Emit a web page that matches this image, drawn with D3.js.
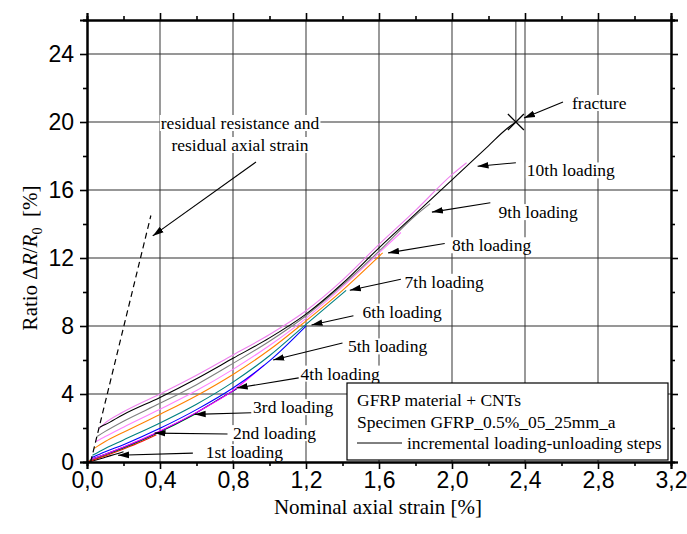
<!DOCTYPE html>
<html><head><meta charset="utf-8">
<script src="https://cdn.jsdelivr.net/npm/d3@7"></script>
<style>body{margin:0;background:#fff}</style>
</head><body><svg id="c" width="687" height="534"></svg>
<script>
// ---- data ----
const xTickValues = [0, 0.4, 0.8, 1.2, 1.6, 2.0, 2.4, 2.8, 3.2];
const xMinorTicks = [0.2, 0.6, 1.0, 1.4, 1.8, 2.2, 2.6, 3.0];
const yTickValues = [0, 4, 8, 12, 16, 20, 24];
const yMinorTicks = [2, 6, 10, 14, 18, 22, 26];

const loadingColors = ["#000000", "#ff0000", "#00b000", "#000080", "#ff00ff", "#0000ff", "#008080", "#ff8000", "#ff80ff", "#808080", "#ee82ee", "#000000"];

const loading01 = [[0,0],[0.05,0.12],[0.1,0.28],[0.15,0.44],[0.2,0.6]];
const loading02 = [[0.01,0.05],[0.1,0.36],[0.2,0.76],[0.3,1.2],[0.38,1.6]];
const loading03 = [[0.015,0.1],[0.1,0.42],[0.2,0.82],[0.3,1.28],[0.4,1.78],[0.5,2.3],[0.6,2.85]];
const loading04 = [[0.02,0.15],[0.1,0.45],[0.2,0.86],[0.4,1.8],[0.6,2.9],[0.7,3.55],[0.82,4.3]];
const loading05 = [[0.02,0.15],[0.1,0.46],[0.2,0.88],[0.4,1.82],[0.6,2.92],[0.8,4.2],[0.97,5.7]];
const loading06 = [[0.025,0.25],[0.1,0.6],[0.2,1.02],[0.4,1.98],[0.6,3.08],[0.8,4.35],[1.0,5.95],[1.2,8.0]];
const loading07 = [[0.03,0.4],[0.1,0.8],[0.2,1.3],[0.4,2.3],[0.6,3.4],[0.8,4.7],[1.0,6.25],[1.2,8.1],[1.42,10.1]];
const loading08 = [[0.04,0.8],[0.1,1.2],[0.2,1.75],[0.4,2.8],[0.6,3.9],[0.8,5.15],[1.0,6.6],[1.2,8.3],[1.4,10.1],[1.62,12.3]];
const loading09 = [[0.05,1.2],[0.1,1.5],[0.2,2.05],[0.4,3.1],[0.6,4.2],[0.8,5.45],[1.0,6.85],[1.2,8.45],[1.4,10.3],[1.6,12.3],[1.72,13.5]];
const loading10 = [[0.055,1.5],[0.1,1.8],[0.2,2.4],[0.4,3.45],[0.6,4.55],[0.8,5.8],[1.0,7.1],[1.2,8.6],[1.4,10.4],[1.6,12.4],[1.8,14.5],[1.88,15.2]];
const loading11 = [[0.065,1.95],[0.1,2.3],[0.2,2.95],[0.4,4.0],[0.6,5.1],[0.8,6.3],[1.0,7.5],[1.2,8.9],[1.4,10.7],[1.6,12.8],[1.8,14.8],[2.0,16.9],[2.08,17.6]];
const loading12 = [[0.07,2.05],[0.1,2.2],[0.2,2.8],[0.4,3.8],[0.6,4.9],[0.8,6.1],[1.0,7.3],[1.2,8.7],[1.4,10.5],[1.6,12.6],[1.8,14.6],[2.0,16.6],[2.2,18.6],[2.3,19.6],[2.35,20.0]];
const loadingCurves = [loading01, loading02, loading03, loading04, loading05, loading06, loading07, loading08, loading09, loading10, loading11, loading12];

const residualLine = [[0.02,0],[0.35,14.5]];
const fracturePoint = [2.35, 20.0];

const loadingLabels = ["1st loading","2nd loading","3rd loading","4th loading","5th loading","6th loading","7th loading","8th loading","9th loading","10th loading"];
// arrow tip (data coords) for each label
const loadingArrowTips = [[0.17,0.4],[0.37,1.7],[0.59,2.8],[0.82,4.35],[1.02,6.0],[1.23,8.06],[1.44,10.1],[1.65,12.3],[1.89,14.7],[2.14,17.4]];
// label anchor (data coords, start of text)
const loadingLabelPos = [[0.65,0.58],[0.8,1.7],[0.91,3.23],[1.17,5.2],[1.43,6.8],[1.51,8.85],[1.74,10.6],[2.0,12.75],[2.255,14.7],[2.41,17.15]];
const loadingArrowTails = [[0.58,0.52],[0.77,1.65],[0.9,2.9],[1.16,4.95],[1.4,7.0],[1.46,8.6],[1.72,10.75],[1.96,12.85],[2.21,15.25],[2.35,17.6]];
const legendLines = ["GFRP material + CNTs", "Specimen GFRP_0.5%_05_25mm_a", "incremental loading-unloading steps"];

// ---- chart ----
const svg = d3.select("#c");
const x = d3.scaleLinear().domain([0, 3.2]).range([87, 671]);
const y = d3.scaleLinear().domain([0, 26]).range([462, 20]);
const fmt = v => d3.format(".1f")(v).replace(".", ",");

// grid
svg.append("g").selectAll("line").data(xTickValues.slice(1, -1)).join("line")
  .attr("x1", d => x(d)).attr("x2", d => x(d)).attr("y1", y(26)).attr("y2", y(0))
  .attr("stroke", "#808080").attr("stroke-width", 1.6);
svg.append("g").selectAll("line").data(yTickValues.slice(1)).join("line")
  .attr("x1", x(0)).attr("x2", x(3.2)).attr("y1", d => y(d)).attr("y2", d => y(d))
  .attr("stroke", "#303030").attr("stroke-width", 1.2);

// fracture vertical line
svg.append("line").attr("x1", x(fracturePoint[0])).attr("x2", x(fracturePoint[0]))
  .attr("y1", y(26)).attr("y2", y(fracturePoint[1])).attr("stroke", "#000").attr("stroke-width", 0.8);

// axes
const axB = d3.axisBottom(x).tickValues(xTickValues).tickFormat(fmt).tickSize(7).tickPadding(3);
const axBm = d3.axisBottom(x).tickValues(xMinorTicks).tickFormat("").tickSize(4);
const axT = d3.axisTop(x).tickValues(xTickValues).tickFormat("").tickSize(7);
const axTm = d3.axisTop(x).tickValues(xMinorTicks).tickFormat("").tickSize(4);
const axL = d3.axisLeft(y).tickValues(yTickValues).tickFormat(d3.format("d")).tickSize(7).tickPadding(6);
const axLm = d3.axisLeft(y).tickValues(yMinorTicks).tickFormat("").tickSize(4);
const axR = d3.axisRight(y).tickValues(yTickValues.concat([26])).tickFormat("").tickSize(7);
const axRm = d3.axisRight(y).tickValues(yMinorTicks).tickFormat("").tickSize(4);

function styleAxis(g) {
  g.select(".domain").attr("stroke", "#000").attr("stroke-width", 2);
  g.selectAll(".tick line").attr("stroke", "#000").attr("stroke-width", 1.6);
  g.selectAll(".tick text").attr("font-family", "Liberation Sans, Arial, sans-serif").attr("font-size", 23).attr("fill", "#000");
}

// curves
const line = d3.line().x(d => x(d[0])).y(d => y(d[1])).curve(d3.curveMonotoneX);
const cg = svg.append("g");
loadingCurves.forEach((c, i) => {
  cg.append("path").datum(c).attr("d", line).attr("fill", "none")
    .attr("stroke", loadingColors[i]).attr("stroke-width", 1.1);
});

// residual dashed line
svg.append("path").datum(residualLine).attr("d", d3.line().x(d => x(d[0])).y(d => y(d[1])))
  .attr("stroke", "#000").attr("stroke-width", 1.2).attr("stroke-dasharray", "6,4").attr("fill", "none");

// fracture marker
const fx = x(fracturePoint[0]), fy = y(fracturePoint[1]);
svg.append("path").attr("d", `M${fx-8},${fy-8}L${fx+8},${fy+8}M${fx-8},${fy+8}L${fx+8},${fy-8}`)
  .attr("stroke", "#000").attr("stroke-width", 1.2);

// arrow marker
svg.append("defs").append("marker").attr("id", "ah").attr("viewBox", "0 0 10 10")
  .attr("refX", 10).attr("refY", 5).attr("markerWidth", 11).attr("markerHeight", 11)
  .attr("markerUnits", "userSpaceOnUse").attr("orient", "auto")
  .append("path").attr("d", "M0,2L10,5L0,8Z").attr("fill", "#000");

const serif = "Liberation Serif, Times New Roman, serif";
function label(txt, px, py, anchor) {
  const t = svg.append("text").attr("x", px).attr("y", py).attr("text-anchor", anchor || "start")
    .attr("dominant-baseline", "central").attr("font-family", serif).attr("font-size", 17.5).attr("fill", "#000").text(txt);
  const b = t.node().getBBox();
  svg.insert("rect", () => t.node()).attr("x", b.x - 1).attr("y", b.y + 2).attr("width", b.width + 2).attr("height", b.height - 4).attr("fill", "#fff");
  return t;
}
function arrow(x1, y1, x2, y2) {
  svg.append("line").attr("x1", x1).attr("y1", y1).attr("x2", x2).attr("y2", y2)
    .attr("stroke", "#000").attr("stroke-width", 1.1).attr("marker-end", "url(#ah)");
}

loadingLabels.forEach((t, i) => {
  label(t, x(loadingLabelPos[i][0]), y(loadingLabelPos[i][1]));
  arrow(x(loadingArrowTails[i][0]), y(loadingArrowTails[i][1]), x(loadingArrowTips[i][0]), y(loadingArrowTips[i][1]));
});

label("residual resistance and", 240, 123, "middle");
label("residual axial strain", 240, 145, "middle");
arrow(256, 162, x(0.36), y(13.3));
label("fracture", 572, 103);
arrow(563, 102, 524, 118);

// legend box
svg.append("rect").attr("x", 347).attr("y", 383).attr("width", 321).attr("height", 77)
  .attr("fill", "#fff").attr("stroke", "#000").attr("stroke-width", 1.2);
legendLines.slice(0, 2).forEach((t, i) => {
  svg.append("text").attr("x", 357).attr("y", 400 + i * 22).attr("dominant-baseline", "central")
    .attr("font-family", serif).attr("font-size", 17.5).text(t);
});
svg.append("line").attr("x1", 357).attr("x2", 402).attr("y1", 443).attr("y2", 443).attr("stroke", "#000").attr("stroke-width", 1);
svg.append("text").attr("x", 407).attr("y", 443).attr("dominant-baseline", "central")
  .attr("font-family", serif).attr("font-size", 17.5).text(legendLines[2]);

// axes on top
[[axB, `translate(0,${y(0)})`], [axBm, `translate(0,${y(0)})`], [axT, `translate(0,${y(26)})`], [axTm, `translate(0,${y(26)})`],
 [axL, `translate(${x(0)},0)`], [axLm, `translate(${x(0)},0)`], [axR, `translate(${x(3.2)},0)`], [axRm, `translate(${x(3.2)},0)`]]
  .forEach(([a, tr]) => svg.append("g").attr("transform", tr).call(a).call(styleAxis));

// axis titles
svg.append("text").attr("x", 378).attr("y", 514).attr("text-anchor", "middle")
  .attr("font-family", serif).attr("font-size", 21).text("Nominal axial strain [%]");
const yt = svg.append("text").attr("transform", "translate(37,258) rotate(-90)").attr("text-anchor", "middle")
  .attr("font-family", serif).attr("font-size", 21);
yt.append("tspan").text("Ratio \u0394");
yt.append("tspan").attr("font-style", "italic").text("R");
yt.append("tspan").text("/");
yt.append("tspan").attr("font-style", "italic").text("R");
yt.append("tspan").attr("font-size", 14).attr("dy", 5).text("0");
yt.append("tspan").attr("dy", -5).text("\u00a0 [%]");
</script></body></html>
